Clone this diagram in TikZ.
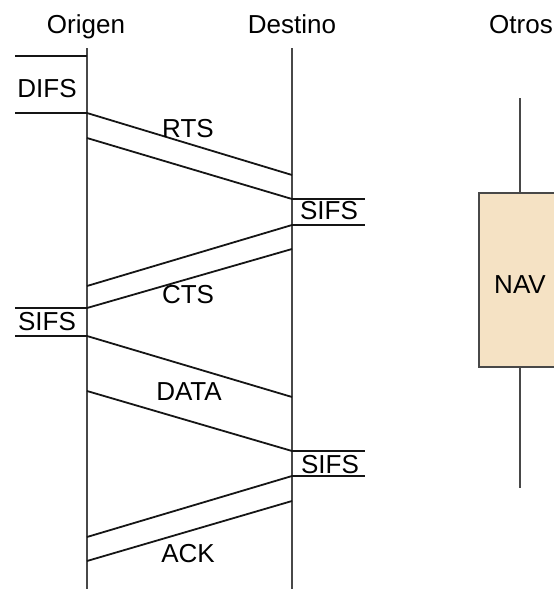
\documentclass[tikz,border=0pt]{standalone}
\usepackage{fontspec}
\setmainfont{Liberation Sans}
\definecolor{navfill}{HTML}{F5E2C4}
\definecolor{lifegray}{HTML}{484848}
\definecolor{msgcol}{HTML}{151515}
\begin{document}
\begin{tikzpicture}[x=1pt,y=-1pt,
  lifeline/.style={draw=lifegray, line width=2pt},
  msg/.style={draw=msgcol, line width=1.8pt},
  lbl/.style={anchor=base, inner sep=0pt, font=\fontsize{26}{30}\selectfont},
  navbox/.style={draw=lifegray, line width=2pt, fill=navfill}]
\useasboundingbox (0,0) rectangle (554,589);
\clip (0,0) rectangle (554,589);
% lifelines
\coordinate (Otop) at (87,48);   \coordinate (Obot) at (87,590);
\coordinate (Dtop) at (292,48);  \coordinate (Dbot) at (292,590);
\coordinate (Xtop) at (520,98);  \coordinate (Xbot) at (520,488);
\draw[lifeline] (Otop) -- (Obot);
\draw[lifeline] (Dtop) -- (Dbot);
\draw[lifeline] (Xtop) -- (Xbot);
% NAV box
\draw[navbox] (479,193) rectangle (562,367);
\node[lbl] (nav) at (520,293) {NAV};
% headers
\node[lbl] (hO) at (86,33) {Origen};
\node[lbl] (hD) at (292,33) {Destino};
\node[lbl] (hX) at (521,33) {Otros};
% points on Origen
\coordinate (o1) at (87,56);  \coordinate (o2) at (87,113);
\coordinate (o3) at (87,138); \coordinate (o4) at (87,286);
\coordinate (o5) at (87,308); \coordinate (o6) at (87,336);
\coordinate (o7) at (87,391); \coordinate (o8) at (87,537);
\coordinate (o9) at (87,561);
% left ends
\coordinate (l1) at (15,56);  \coordinate (l2) at (15,113);
\coordinate (l5) at (15,308); \coordinate (l6) at (15,336);
% points on Destino
\coordinate (d1) at (292,175); \coordinate (d2) at (292,199);
\coordinate (d3) at (292,225); \coordinate (d4) at (292,249);
\coordinate (d5) at (292,397); \coordinate (d6) at (292,451);
\coordinate (d7) at (292,476); \coordinate (d8) at (292,501);
% right ends
\coordinate (r2) at (365,199); \coordinate (r3) at (365,225);
\coordinate (r6) at (365,451); \coordinate (r7) at (365,476);
% DIFS
\draw[msg] (l1) -- (o1);
\draw[msg] (l2) -- (o2);
\node[lbl] (difs) at (47,97) {DIFS};
% RTS
\draw[msg] (o2) -- (d1);
\draw[msg] (o3) -- (d2);
\node[lbl] (rts) at (188,137) {RTS};
% SIFS right 1
\draw[msg] (d2) -- (r2);
\draw[msg] (d3) -- (r3);
\node[lbl] (sifs1) at (329,219) {SIFS};
% CTS
\draw[msg] (d3) -- (o4);
\draw[msg] (d4) -- (o5);
\node[lbl] (cts) at (188,303) {CTS};
% SIFS left
\draw[msg] (l5) -- (o5);
\draw[msg] (l6) -- (o6);
\node[lbl] (sifs2) at (47,330) {SIFS};
% DATA
\draw[msg] (o6) -- (d5);
\draw[msg] (o7) -- (d6);
\node[lbl] (data) at (189,400) {DATA};
% SIFS right 2
\draw[msg] (d6) -- (r6);
\draw[msg] (d7) -- (r7);
\node[lbl] (sifs3) at (330,473) {SIFS};
% ACK
\draw[msg] (d7) -- (o8);
\draw[msg] (d8) -- (o9);
\node[lbl] (ack) at (188,562) {ACK};
\end{tikzpicture}
\end{document}
